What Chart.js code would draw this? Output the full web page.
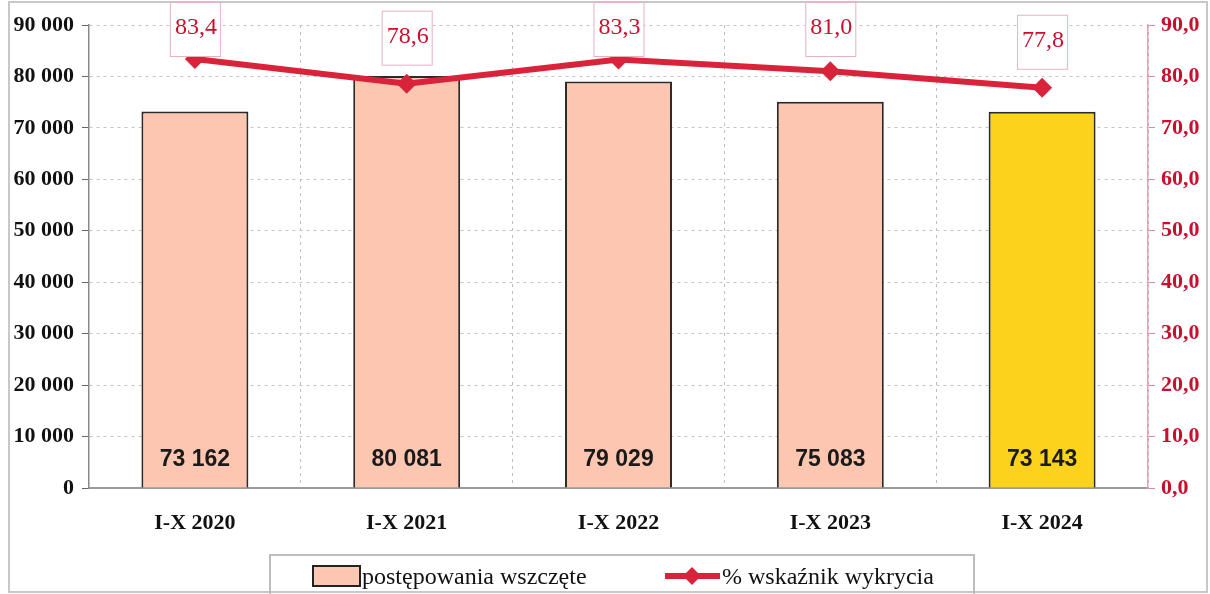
<!DOCTYPE html>
<html lang="pl">
<head>
<meta charset="utf-8">
<title>Postępowania wszczęte i wskaźnik wykrycia</title>
<script src="https://cdn.jsdelivr.net/npm/chart.js@4/dist/chart.umd.min.js"></script>
<style>
  html, body { margin: 0; padding: 0; background: #fff; }
  #wrap { width: 1210px; height: 594px; }
</style>
</head>
<body>
<div id="wrap"><canvas id="chart" width="1210" height="594"></canvas></div>
<script>
"use strict";

const LABELS     = ["I-X 2020", "I-X 2021", "I-X 2022", "I-X 2023", "I-X 2024"];
const WSZCZETE   = [73162, 80081, 79029, 75083, 73143];
const WSKAZNIK   = [83.4, 78.6, 83.3, 81.0, 77.8];
const BAR_LABEL  = "postępowania wszczęte";
const LINE_LABEL = "% wskaźnik wykrycia";

const PINK   = "#fcc6b1";
const YELLOW = "#fdd21c";
const RED    = "#d9233b";
const TXTRED = "#c8102e";
const SERIF  = "'Liberation Serif', 'DejaVu Serif', serif";
const SANS   = "'Liberation Sans', Arial, sans-serif";

function fmtThousands(v) {
  return String(v).replace(/\B(?=(\d{3})+(?!\d))/g, " ");
}
function fmtPct(v) {
  return v.toFixed(1).replace(".", ",");
}

// frame + white background
const framePlugin = {
  id: "frame",
  beforeDraw(chart) {
    const ctx = chart.ctx;
    ctx.save();
    ctx.fillStyle = "#fff";
    ctx.fillRect(0, 0, chart.width, chart.height);
    ctx.strokeStyle = "#c8c8c8";
    ctx.lineWidth = 2;
    ctx.strokeRect(9, 2, 1198, 590);
    ctx.restore();
  },
};

// value labels for bars and line points
const labelsPlugin = {
  id: "valueLabels",
  afterDatasetsDraw(chart) {
    const ctx = chart.ctx;
    ctx.save();

    const bars = chart.getDatasetMeta(1);
    ctx.font = "bold 23px " + SANS;
    ctx.fillStyle = "#1a1a1a";
    ctx.textAlign = "center";
    ctx.textBaseline = "middle";
    bars.data.forEach((el, i) => {
      ctx.fillText(fmtThousands(WSZCZETE[i]), el.x, el.base - 28);
    });

    const line = chart.getDatasetMeta(0);
    line.data.forEach((pt, i) => {
      const w = 50, h = 54;
      const top = Math.max(2, pt.y - 73);
      ctx.fillStyle = "#fff";
      ctx.fillRect(pt.x - w / 2, top, w, h);
      ctx.strokeStyle = "#e5b3bd";
      ctx.lineWidth = 1;
      ctx.strokeRect(pt.x - w / 2 + 0.5, top + 0.5, w, h);
      ctx.fillStyle = TXTRED;
      ctx.font = "24px " + SERIF;
      ctx.fillText(fmtPct(WSKAZNIK[i]), pt.x + 1, top + 26);
    });
    ctx.restore();
  },
};

// legend in a framed box below the axis
const legendPlugin = {
  id: "boxLegend",
  afterDraw(chart) {
    const ctx = chart.ctx;
    ctx.save();
    ctx.strokeStyle = "#bdbdbd";
    ctx.lineWidth = 2;
    ctx.strokeRect(270, 555, 704, 60);

    ctx.fillStyle = PINK;
    ctx.fillRect(313, 566, 47, 20);
    ctx.strokeStyle = "#222";
    ctx.lineWidth = 2;
    ctx.strokeRect(313, 566, 47, 20);

    ctx.font = "24px " + SERIF;
    ctx.fillStyle = "#111";
    ctx.textAlign = "left";
    ctx.textBaseline = "alphabetic";
    ctx.fillText(BAR_LABEL, 362, 584);

    ctx.strokeStyle = RED;
    ctx.lineWidth = 6;
    ctx.beginPath();
    ctx.moveTo(665, 576);
    ctx.lineTo(720, 576);
    ctx.stroke();
    ctx.fillStyle = RED;
    ctx.beginPath();
    ctx.moveTo(692, 567);
    ctx.lineTo(701, 576);
    ctx.lineTo(692, 585);
    ctx.lineTo(683, 576);
    ctx.closePath();
    ctx.fill();

    ctx.fillStyle = "#111";
    ctx.fillText(LINE_LABEL, 722, 584);
    ctx.restore();
  },
};

new Chart(document.getElementById("chart"), {
  data: {
    labels: LABELS,
    datasets: [
      {
        type: "line",
        label: LINE_LABEL,
        data: WSKAZNIK,
        yAxisID: "y2",
        order: 0,
        borderColor: RED,
        backgroundColor: RED,
        borderWidth: 6,
        pointStyle: "rectRot",
        pointRadius: 10,
        pointBorderWidth: 0,
        tension: 0,
      },
      {
        type: "bar",
        label: BAR_LABEL,
        data: WSZCZETE,
        yAxisID: "y",
        order: 1,
        backgroundColor: WSZCZETE.map((v, i) => i === WSZCZETE.length - 1 ? YELLOW : PINK),
        borderColor: "#2a2a2a",
        borderWidth: 2,
        borderSkipped: "bottom",
        categoryPercentage: 1,
        barPercentage: 0.505,
      },
    ],
  },
  options: {
    responsive: false,
    animation: false,
    layout: { padding: { left: 10, right: 0, top: 25, bottom: 0 } },
    plugins: {
      legend: { display: false },
      tooltip: { enabled: false },
    },
    scales: {
      x: {
        offset: true,
        grid: {
          offset: true,
          // skip the lines that sit on the two value axes
          color: c => (c.index === 0 || c.index === LABELS.length) ? "rgba(0,0,0,0)" : "#bdbdbd",
          drawTicks: false,
        },
        border: { color: "#9a9a9a", width: 2, dash: [3, 4] },
        ticks: {
          color: "#111",
          font: { family: SERIF, size: 22, weight: "bold" },
          padding: 22,
        },
        afterFit(scale) { scale.height = 106; },
      },
      y: {
        position: "left",
        min: 0,
        max: 90000,
        ticks: {
          stepSize: 10000,
          color: "#111",
          font: { family: SERIF, size: 22, weight: "bold" },
          padding: 8,
          callback: v => fmtThousands(v),
        },
        grid: {
          color: "#c4c4c4",
          tickLength: 7,
          tickColor: "#666",
          tickBorderDash: [],
        },
        border: { color: "#8a8a8a", width: 1.5, dash: [3, 4] },
        afterFit(scale) { scale.width = 79; },
      },
      y2: {
        position: "right",
        min: 0,
        max: 90,
        ticks: {
          stepSize: 10,
          color: TXTRED,
          font: { family: SERIF, size: 22, weight: "bold" },
          padding: 6,
          callback: v => fmtPct(v),
        },
        grid: {
          drawOnChartArea: false,
          tickLength: 7,
          tickColor: "#d98a9c",
        },
        border: { color: "#e2a3b1", width: 1.5 },
        afterFit(scale) { scale.width = 62; },
      },
    },
  },
  plugins: [framePlugin, labelsPlugin, legendPlugin],
});
</script>
</body>
</html>
